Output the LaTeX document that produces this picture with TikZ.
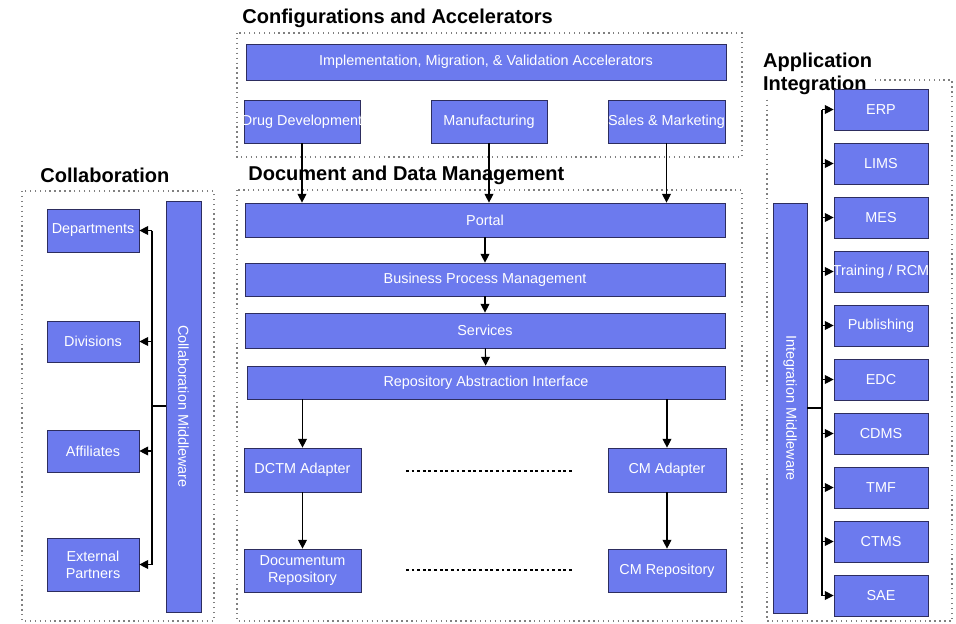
\documentclass[tikz,border=0pt]{standalone}
\usepackage{fontspec}
\setmainfont{Liberation Sans}
\usetikzlibrary{arrows.meta}
\definecolor{boxblue}{RGB}{108,122,238}
\definecolor{boxline}{RGB}{45,45,95}
\begin{document}
\begin{tikzpicture}[x=0.02cm,y=-0.02cm,
  box/.style={draw=boxline,fill=boxblue,text=white,inner sep=0pt,font=\fontsize{8.2}{9.5}\selectfont,align=center},
  frame/.style={draw=gray,dotted,line width=0.8pt},
  title/.style={anchor=west,font=\fontsize{11.4}{13}\selectfont\bfseries,inner sep=0pt},
  arr/.style={-{Triangle[length=5pt,width=5pt]},line width=0.6pt},
  link/.style={dash pattern=on 1.6pt off 1.6pt,line width=1.6pt}]
\useasboundingbox (0,0) rectangle (956,623);
% frames and titles
\draw[frame] (237,33) rectangle (742,157);
\draw[frame] (237,190) rectangle (742,621);
\draw[frame] (22,191) rectangle (214,621);
\draw[frame] (767,80) rectangle (952,621);
\node[title] (tconf) at (242,18) {Configurations and Accelerators};
\node[title] (tdoc) at (248,175) {Document and Data Management};
\node[title] (tcol) at (40,175) {Collaboration};
\node[title,fill=white,align=left,inner sep=1pt] (tapp) at (761,74) {Application\\Integration};
% configurations
\node[box,minimum width=9.6cm,minimum height=0.72cm] (accel) at (486,62) {Implementation, Migration, \& Validation Accelerators};
\node[box,minimum width=2.32cm,minimum height=0.86cm] (drug) at (302,121.5) {\makebox[0pt]{Drug Development}};
\node[box,minimum width=2.32cm,minimum height=0.86cm] (manu) at (489,121.5) {Manufacturing};
\node[box,minimum width=2.34cm,minimum height=0.86cm] (sales) at (666.5,121.5) {\makebox[0pt]{Sales \& Marketing}};
% document and data management
\node[box,minimum width=9.6cm,minimum height=0.68cm] (portal) at (485,220) {Portal};
\node[box,minimum width=9.6cm,minimum height=0.66cm] (bpm) at (485,279.5) {Business Process Management};
\node[box,minimum width=9.6cm,minimum height=0.7cm] (serv) at (485,330.5) {Services};
\node[box,minimum width=9.56cm,minimum height=0.66cm] (rai) at (486,382.5) {Repository Abstraction Interface};
\node[box,minimum width=2.34cm,minimum height=0.88cm] (dctm) at (302.5,470) {DCTM Adapter};
\node[box,minimum width=2.36cm,minimum height=0.88cm] (cma) at (667,470) {CM Adapter};
\node[box,minimum width=2.34cm,minimum height=0.86cm] (drep) at (302.5,570.5) {Documentum\\Repository};
\node[box,minimum width=2.36cm,minimum height=0.86cm] (cmr) at (667,570.5) {CM Repository};
\draw[arr] (drug) -- (drug |- portal.north);
\draw[arr] (manu) -- (manu |- portal.north);
\draw[arr] (sales) -- (sales |- portal.north);
\draw[arr] (portal) -- (bpm);
\draw[arr] (bpm) -- (serv);
\draw[arr] (serv) -- (rai);
\draw[arr] (dctm |- rai.south) -- (dctm);
\draw[arr] (cma |- rai.south) -- (cma);
\draw[arr] (dctm) -- (drep);
\draw[arr] (cma) -- (cmr);
\draw[link] (406,471) -- (574,471);
\draw[link] (406,570) -- (574,570);
% collaboration
\node[box,minimum width=1.84cm,minimum height=0.86cm] (dept) at (93,230.5) {Departments};
\node[box,minimum width=1.84cm,minimum height=0.82cm] (divi) at (93,341.5) {Divisions};
\node[box,minimum width=1.84cm,minimum height=0.84cm] (affi) at (93,451) {Affiliates};
\node[box,minimum width=1.84cm,minimum height=1.06cm] (extp) at (93,564.5) {External\\Partners};
\node[box,minimum width=0.7cm,minimum height=8.22cm] (colmw) at (183.5,406.5) {\rotatebox{-90}{Collaboration Middleware}};
\coordinate (cbus) at (152,406);
\draw[line width=0.6pt] (dept.east -| cbus) -- (extp.east -| cbus);
\draw[line width=0.6pt] (cbus) -- (colmw.west |- cbus);
\foreach \n in {dept,divi,affi,extp}
  \draw[arr] (\n.east -| cbus) -- (\n.east);
% application integration
\node[box,minimum width=0.68cm,minimum height=8.2cm] (intmw) at (790,408) {\rotatebox{-90}{Integration Middleware}};
\coordinate (abus) at (822,408);
\foreach \t [count=\i from 0] in {ERP,LIMS,MES,Training / RCM,Publishing,EDC,CDMS,TMF,CTMS,SAE}
  \node[box,minimum width=1.88cm,minimum height=0.82cm] (app\i) at (881,109.5+54*\i) {\makebox[0pt]{\t}};
\draw[line width=0.6pt] (app0.west -| abus) -- (app9.west -| abus);
\draw[line width=0.6pt] (intmw.east |- abus) -- (abus);
\foreach \i in {0,...,9}
  \draw[arr] (app\i.west -| abus) -- (app\i.west);
\end{tikzpicture}
\end{document}
